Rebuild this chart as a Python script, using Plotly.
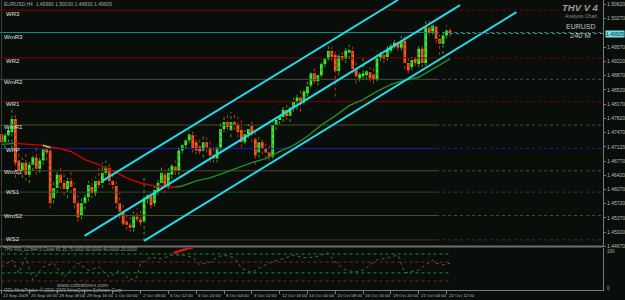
import plotly.graph_objects as go

# ---------------- data ----------------
bar_open = [1.47430,1.47230,1.47405,1.47480,1.47805,1.46780,1.46530,1.46730,1.46430,1.46680,
            1.46855,1.46580,1.46780,1.47055,1.47030,1.45855,1.46105,1.46430,1.46230,1.46080,
            1.46280,1.46105,1.45730,1.45430,1.45730,1.45880,1.46130,1.45980,1.46280,1.46230,
            1.46480,1.46605,1.46280,1.46155,1.45730,1.45530,1.45280,1.45205,1.45130,1.45405,
            1.45330,1.45280,1.45830,1.45905,1.45730,1.46030,1.46230,1.46430,1.46155,1.46430,
            1.46630,1.46530,1.47030,1.47155,1.47280,1.47405,1.47230,1.47130,1.47030,1.47230,
            1.47105,1.46905,1.46830,1.47105,1.47555,1.47730,1.47530,1.47730,1.47655,1.47530,
            1.47230,1.47430,1.47630,1.47305,1.46980,1.47230,1.47080,1.46980,1.46880,1.47655,
            1.47780,1.47855,1.48030,1.47880,1.48080,1.48230,1.48330,1.48230,1.48430,1.48630,
            1.48930,1.48730,1.48880,1.49155,1.49280,1.49480,1.49380,1.48980,1.49355,1.49280,
            1.49430,1.49480,1.49030,1.48805,1.48855,1.48880,1.48955,1.48905,1.48780,1.49305,
            1.49380,1.49330,1.49480,1.49580,1.49680,1.49555,1.49730,1.49180,1.49080,1.49280,
            1.49155,1.49530,1.49180,1.50055,1.49955,1.50080,1.49780,1.49655,1.49855,1.49980]
bar_high = [1.47580,1.47480,1.47605,1.48030,1.47980,1.47030,1.46855,1.46980,1.46780,1.46980,
            1.47105,1.46930,1.47180,1.47230,1.47155,1.46280,1.46530,1.46605,1.46480,1.46355,
            1.46530,1.46230,1.45930,1.45855,1.45980,1.46280,1.46330,1.46380,1.46605,1.46730,
            1.46780,1.46730,1.46530,1.46355,1.45980,1.45730,1.45480,1.45430,1.45530,1.45605,
            1.45580,1.46430,1.46030,1.46030,1.46155,1.46330,1.46605,1.46580,1.46605,1.46780,
            1.46780,1.47105,1.47230,1.47355,1.47530,1.47530,1.47405,1.47330,1.47430,1.47430,
            1.47280,1.47180,1.47180,1.47730,1.47855,1.47930,1.47980,1.47930,1.47855,1.47780,
            1.47530,1.47680,1.47780,1.47480,1.47355,1.47355,1.47280,1.47230,1.47780,1.47855,
            1.47980,1.48130,1.48230,1.48180,1.48330,1.48430,1.48530,1.48605,1.48780,1.49030,
            1.49055,1.48930,1.49280,1.49355,1.49605,1.49580,1.49530,1.49480,1.49530,1.49605,
            1.49630,1.49580,1.49230,1.49030,1.49355,1.49080,1.49080,1.49130,1.49480,1.49480,
            1.49480,1.49630,1.49730,1.49805,1.49755,1.49855,1.49855,1.49330,1.49330,1.49405,
            1.49605,1.49605,1.50230,1.50230,1.50180,1.50130,1.49880,1.49980,1.50105,1.50030]
bar_low = [1.47180,1.47080,1.47230,1.47080,1.46355,1.46430,1.46355,1.46280,1.46230,1.46530,
           1.46430,1.46480,1.46680,1.46780,1.45605,1.45730,1.45980,1.46080,1.45930,1.45855,
           1.45980,1.45605,1.45280,1.45330,1.45580,1.45780,1.45855,1.45905,1.46105,1.46105,
           1.46280,1.46180,1.46080,1.45605,1.45355,1.45180,1.45080,1.45030,1.45030,1.45280,
           1.45180,1.44805,1.45730,1.45605,1.45655,1.45930,1.46105,1.45980,1.46080,1.46330,
           1.46430,1.46430,1.46955,1.47080,1.47205,1.46980,1.46930,1.46930,1.46855,1.46980,
           1.46730,1.46730,1.46730,1.47030,1.47480,1.47530,1.47355,1.47530,1.47355,1.47105,
           1.47180,1.47330,1.47230,1.46680,1.46855,1.46930,1.46830,1.46780,1.46830,1.47530,
           1.47680,1.47730,1.47780,1.47730,1.47980,1.48030,1.47980,1.48155,1.48355,1.48580,
           1.48680,1.48630,1.48830,1.49080,1.49230,1.49230,1.48355,1.48880,1.49230,1.49180,
           1.49280,1.48930,1.48680,1.48730,1.48780,1.48780,1.48730,1.48680,1.48730,1.49230,
           1.49180,1.49230,1.49430,1.49530,1.49480,1.49480,1.49030,1.48930,1.49005,1.49105,
           1.49080,1.49080,1.49105,1.49855,1.49880,1.49680,1.49380,1.49405,1.49780,1.49830]
bar_close = [1.47230,1.47405,1.47530,1.47805,1.46730,1.46530,1.46730,1.46430,1.46680,1.46855,
             1.46580,1.46780,1.47055,1.46980,1.45730,1.46105,1.46430,1.46230,1.46080,1.46280,
             1.46130,1.45730,1.45380,1.45730,1.45880,1.46180,1.45980,1.46280,1.46180,1.46480,
             1.46605,1.46280,1.46180,1.45730,1.45530,1.45230,1.45205,1.45130,1.45405,1.45330,
             1.45255,1.45855,1.45930,1.45680,1.46055,1.46230,1.46480,1.46155,1.46480,1.46655,
             1.46530,1.47030,1.47155,1.47280,1.47430,1.47080,1.47030,1.47005,1.47230,1.47105,
             1.46905,1.46830,1.47105,1.47555,1.47730,1.47605,1.47730,1.47655,1.47480,1.47230,
             1.47430,1.47555,1.47430,1.46905,1.47230,1.47080,1.46980,1.46880,1.47655,1.47780,
             1.47855,1.48030,1.47880,1.48080,1.48230,1.48330,1.48180,1.48480,1.48605,1.48930,
             1.48730,1.48880,1.49155,1.49280,1.49480,1.49330,1.48980,1.49355,1.49280,1.49480,
             1.49505,1.49030,1.48855,1.48905,1.48930,1.48980,1.48805,1.48780,1.49305,1.49405,
             1.49280,1.49530,1.49605,1.49680,1.49555,1.49730,1.49180,1.49005,1.49255,1.49180,
             1.49530,1.49180,1.50055,1.49930,1.50105,1.49780,1.49655,1.49855,1.49980,1.49905]

ma_x = [0,4,8,12,14,16,20,24,28,32,36,40,44,48,50,52,56,60,64,68,72,76,80,84,88,92,96,100,104,108,112,116,120,124,129]
ma_y = [1.47180,1.47205,1.47180,1.47155,1.47105,1.47093,1.47005,1.46805,1.46680,1.46530,1.46355,1.46230,
        1.46155,1.46130,1.46130,1.46155,1.46280,1.46355,1.46480,1.46605,1.46730,1.46830,1.47005,1.47155,
        1.47380,1.47655,1.47880,1.48130,1.48280,1.48480,1.48655,1.48755,1.48830,1.49030,1.49280]
# colour segments of the moving average (start bar, end bar, colour)
ma_segments = [(0,4,"#1f8f1f"),(4,12,"#d40000"),(12,14,"#e8e800"),(14,50,"#d40000"),(50,129,"#1f8f1f")]

# channel lines (start bar, start price, end bar, end price)
chan_x0 = [29.0, 23.9, 41.0]
chan_y0 = [1.46280, 1.44930, 1.44805]
chan_x1 = [114.0, 131.9, 148.1]
chan_y1 = [1.50730, 1.50605, 1.50430]

pivot_names = ["WR3","WmR3","WR2","WmR2","WR1","WmR1","WPP","WmS1","WS1","WmS2","WS2"]
pivot_values = [1.50480,1.49930,1.49305,1.48780,1.48230,1.47655,1.47080,1.46530,1.46005,1.45430,1.44830]
pivot_colors = ["#7a0000","#0f8a8a","#7a0000","#4c4c4c","#7a0000","#4d4d22","#1c1cae","#4d4d22","#1f501f","#4d4d22","#3a3a1a"]

rsi_x = [0,3,5,7,9,12,15,18,20,22,25,28,31,34,37,39,40,43,46,49,52,55,57,60,62,64,67,69,72,74,77,80,82,84,
         87,90,92,94,96,99,102,104,106,108,111,114,116,118,120,122,124,125,127,129]
rsi_y = [51,64,40,69,27,51,58,32,45,58,45,51,32,45,27,32,58,69,66,73,73,69,55,60,69,73,68,49,40,49,58,64,68,73,
         68,69,73,77,60,45,42,45,55,64,68,73,40,42,45,55,64,58,55,58]
rsi_hot_x = [49.5,51,52.5,54,55]
rsi_hot_y = [77,80,84,86,86]
rsi_levels = [75,60,40,25]
rsi_level_colors = ["#1f8a1f","#8a1f1f","#1f8a1f","#8a1f1f"]

price_ticks = [1.44670,1.45020,1.45370,1.45720,1.46070,1.46420,1.46770,1.47120,1.47470,1.47820,
               1.48170,1.48520,1.48870,1.49220,1.49570,1.50270,1.50620]
time_tick_pos = [0,8,16,24,32,40,48,56,64,72,80,88,96,104,112,120,128]
time_labels = ["22 Sep 2009","25 Sep 04:00","28 Sep 08:00","29 Sep 16:00","1 Oct 00:00","2 Oct 08:00",
               "5 Oct 12:00","6 Oct 20:00","8 Oct 04:00","9 Oct 12:00","12 Oct 16:00","14 Oct 00:00",
               "15 Oct 08:00","16 Oct 16:00","19 Oct 20:00","21 Oct 04:00","22 Oct 12:00"]

# ---------------- figure ----------------
BG = "#0a0e0a"
W, H = 625, 300
PW, PH = 607, 290   # plot area in px
X_MIN, X_MAX = -0.4286, 173.0
SOLID_END = 125
FONT = "Liberation Sans"

def pp(px, py):
    return px / PW, (PH - py) / PH

fig = go.Figure()

# pivot lines
for val, col in zip(pivot_values, pivot_colors):
    fig.add_trace(go.Scatter(x=[X_MIN, SOLID_END], y=[val, val], mode="lines",
                             line=dict(color=col, width=1), hoverinfo="skip"))
    fig.add_trace(go.Scatter(x=[SOLID_END, X_MAX], y=[val, val], mode="lines",
                             line=dict(color=col, width=1, dash="dot"), hoverinfo="skip"))

n = len(bar_open)
bull = [i for i in range(n) if bar_close[i] >= bar_open[i]]
bear = [i for i in range(n) if bar_close[i] < bar_open[i]]

def wick_xy(ids):
    xs, ys = [], []
    for i in ids:
        xs += [i, i, None]
        ys += [bar_low[i], bar_high[i], None]
    return xs, ys

for ids, col in ((bull, "#2aa52a"), (bear, "#c83020")):
    wx, wy = wick_xy(ids)
    fig.add_trace(go.Scatter(x=wx, y=wy, mode="lines", line=dict(color=col, width=1, dash="dot"),
                             hoverinfo="skip"))

for ids, col in ((bull, "#3cf02a"), (bear, "#ff5a1a")):
    fig.add_trace(go.Bar(x=ids, y=[bar_close[i] - bar_open[i] for i in ids],
                         base=[bar_open[i] for i in ids], width=0.78,
                         marker=dict(color=col, line=dict(width=0)), hoverinfo="skip"))

# moving average
for s, e, col in ma_segments:
    xs = [x for x in ma_x if s <= x <= e]
    ys = [ma_y[ma_x.index(x)] for x in xs]
    fig.add_trace(go.Scatter(x=xs, y=ys, mode="lines", line=dict(color=col, width=1.4),
                             hoverinfo="skip"))

# channel
for x0, y0, x1, y1 in zip(chan_x0, chan_y0, chan_x1, chan_y1):
    fig.add_trace(go.Scatter(x=[x0, x1], y=[y0, y1], mode="lines",
                             line=dict(color="#22dcec", width=2), hoverinfo="skip"))

# bid line
last = bar_close[-1]
fig.add_trace(go.Scatter(x=[n - 1, X_MAX], y=[last, last], mode="lines",
                         line=dict(color="#7a7a7a", width=1, dash="dot"), hoverinfo="skip"))

# RSI panel
for lv, col in zip(rsi_levels, rsi_level_colors):
    fig.add_trace(go.Scatter(x=[0, n - 1], y=[lv, lv], mode="lines", yaxis="y2",
                             line=dict(color=col, width=1, dash="dot"), hoverinfo="skip"))
fig.add_trace(go.Scatter(x=rsi_x, y=rsi_y, mode="lines", yaxis="y2",
                         line=dict(color="#506050", width=1, dash="dot"), hoverinfo="skip"))
fig.add_trace(go.Scatter(x=rsi_hot_x, y=rsi_hot_y, mode="lines", yaxis="y2",
                         line=dict(color="#e01010", width=2.5), hoverinfo="skip"))

ann = []
def txt(px, py, s, size=5, color="#b8b8b8", xanchor="left", **kw):
    x, y = pp(px, py)
    ann.append(dict(x=x, y=y, xref="paper", yref="paper", text=s, showarrow=False,
                    xanchor=xanchor, yanchor="middle", font=dict(size=size, color=color, family=FONT), **kw))

txt(2, 4, "EURUSD,H4  %.5f %.5f %.5f %.5f" % (bar_open[-1], bar_high[-1], bar_low[-1], bar_close[-1]), 5, "#a8a8a8")

pivot_label_py = [13.5, 37, 60.5, 82, 103.5, 127, 150, 171.5, 192.5, 216, 239]
for name, py in zip(pivot_names, pivot_label_py):
    txt(13.5, py, name, 6, "#e0e0e0", xanchor="center")

txt(584, 7.5, "<b><i>THV V 4</i></b>", 9.5, "#9c9c9c", xanchor="center")
txt(585, 16, "Analysis Chart", 5, "#8a8a8a", xanchor="center")
txt(585, 26.5, "EURUSD", 7, "#c4c4c4", xanchor="center")
txt(584, 35, "240 M", 7.5, "#c4c4c4", xanchor="center")

txt(2, 249.5, "THV RSI_c2 844 5 Close 65 35 75.0000 60.0000 40.0000 25.0000", 4.5, "#9a9a9a")
txt(83, 285, "www.cobraforex.com", 5.5, "#a0a0a0", xanchor="center")
txt(2, 290, "ODL MetaTrader, \u00a9 2001-2009 MetaQuotes Software Corp.", 4.5, "#9a9a9a")
txt(609, 251.5, "100", 4.5, "#b0b0b0")
txt(609, 288, "0", 4.5, "#b0b0b0")

for pos, lab in zip(time_tick_pos, time_labels):
    ann.append(dict(x=pos, y=pp(0, 295.5)[1], xref="x", yref="paper", text=lab, showarrow=False,
                    xanchor="left", yanchor="middle", font=dict(size=4.4, color="#b8b8b8", family=FONT)))

# current price marker on the price scale
ann.append(dict(x=609 / PW, y=last, xref="paper", yref="y", text="%.5f" % last, showarrow=False,
                xanchor="left", yanchor="middle", bgcolor="#6fe3ea", borderpad=0,
                font=dict(size=5, color="#102020", family=FONT)))

shapes = [
    dict(type="line", xref="paper", yref="y domain", x0=0, x1=1, y0=0, y1=0,
         line=dict(color="#6e6e6e", width=2)),
    dict(type="line", xref="paper", yref="paper", x0=0.0025, x1=0.0025, y0=0, y1=1,
         line=dict(color="#3a3a3a", width=1)),
]

fig.update_layout(
    width=W, height=H, margin=dict(l=0, r=W - PW, t=0, b=H - PH),
    paper_bgcolor=BG, plot_bgcolor=BG, showlegend=False, barmode="overlay",
    annotations=ann, shapes=shapes,
    xaxis=dict(range=[X_MIN, X_MAX], domain=[0, 1], anchor="y2", showgrid=False, zeroline=False,
               showline=True, linecolor="#7a7a7a", linewidth=1, ticks="outside", ticklen=3,
               tickcolor="#7a7a7a", tickvals=time_tick_pos, showticklabels=False),
    yaxis=dict(domain=[0.15, 1], range=[1.446675, 1.5073], side="right", anchor="x",
               showgrid=False, zeroline=False, showline=True, linecolor="#7a7a7a", linewidth=1,
               ticks="outside", ticklen=2, tickcolor="#7a7a7a", tickvals=price_ticks,
               ticktext=["%.5f" % v for v in price_ticks],
               tickfont=dict(size=5, color="#b8b8b8", family=FONT)),
    yaxis2=dict(domain=[0, 0.1448], range=[8.3, 86.1], side="right", anchor="x",
                showgrid=False, zeroline=False, showline=True, linecolor="#7a7a7a", linewidth=1,
                showticklabels=False, ticks=""),
)

fig.write_html("out.html")
